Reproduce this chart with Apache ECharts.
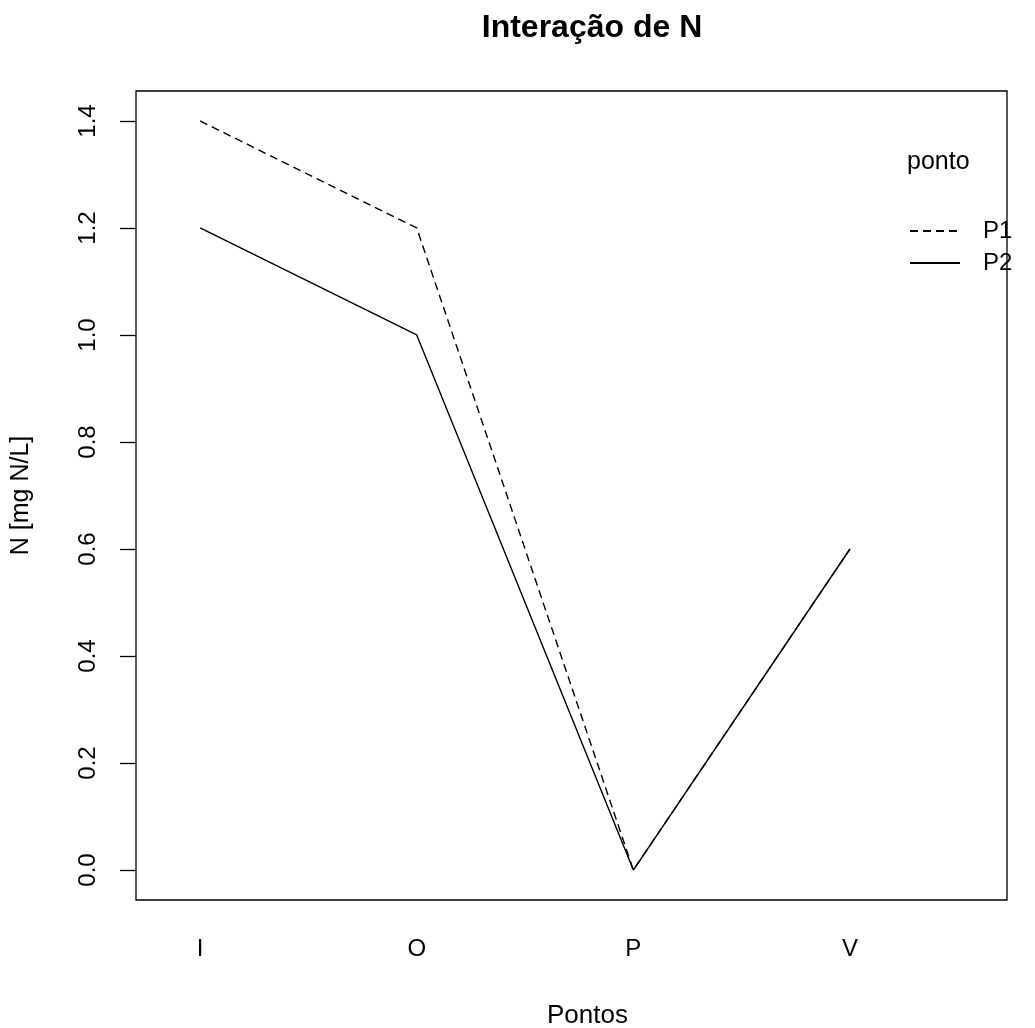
<!DOCTYPE html>
<html>
<head>
<meta charset="utf-8">
<script src="https://cdn.jsdelivr.net/npm/echarts@6/dist/echarts.min.js"></script>
<style>html,body{margin:0;padding:0;background:#fff;}#main{width:1035px;height:1028px;}</style>
</head>
<body>
<div id="main"></div>
<script>
var categories = ['I', 'O', 'P', 'V'];
var seriesNames = ['P1', 'P2'];
var p1Values = [1.4, 1.2, 0.0, 0.6];
var p2Values = [1.2, 1.0, 0.0, 0.6];
var yTicks = [0.0, 0.2, 0.4, 0.6, 0.8, 1.0, 1.2, 1.4];

var FONT = '"Liberation Sans", Arial, sans-serif';
function toPoints(vals) { return vals.map(function (v, i) { return [i, v]; }); }

var chart = echarts.init(document.getElementById('main'));
chart.setOption({
  backgroundColor: '#fff',
  animation: false,
  title: [
    { text: 'Interação de N', left: 587, textAlign: 'center', top: 7,
      textStyle: { fontFamily: FONT, fontSize: 32, fontWeight: 'bold', color: '#000' } },
    { text: 'ponto', left: 902, top: 145,
      textStyle: { fontFamily: FONT, fontSize: 25, fontWeight: 'normal', color: '#000' } }
  ],
  legend: {
    orient: 'vertical', left: 909, top: 219, padding: 0, itemWidth: 50, itemHeight: 14, itemGap: 8,
    itemStyle: { opacity: 0, color: 'transparent', borderWidth: 0 },
    textStyle: { fontFamily: FONT, fontSize: 24, color: '#000', padding: [4, 0, 0, 18] },
    data: seriesNames
  },
  grid: { left: 136, top: 91, right: 28, bottom: 128, outerBoundsMode: 'none', containLabel: false,
    show: true, borderColor: '#000', borderWidth: 1.3, backgroundColor: 'transparent' },
  xAxis: {
    type: 'value', min: -0.296, max: 3.725,
    name: 'Pontos', nameLocation: 'middle', nameGap: 103,
    nameTextStyle: { fontFamily: FONT, fontSize: 26, color: '#000', padding: [0, 0, 0, 32] },
    axisLine: { show: false, onZero: false }, axisTick: { show: false }, splitLine: { show: false },
    axisLabel: { customValues: [0, 1, 2, 3], formatter: function (v) { return categories[Math.round(v)]; },
      fontFamily: FONT, fontSize: 24, color: '#000', margin: 37 }
  },
  yAxis: {
    type: 'value', min: -0.056, max: 1.456,
    name: 'N [mg N/L]', nameLocation: 'middle', nameGap: 102, nameRotate: 90,
    nameTextStyle: { fontFamily: FONT, fontSize: 25, color: '#000' },
    axisLine: { show: false, onZero: false }, splitLine: { show: false },
    axisTick: { show: true, customValues: yTicks, length: 16, lineStyle: { color: '#000', width: 1.3 } },
    axisLabel: { customValues: yTicks, rotate: 90, formatter: function (v) { return v.toFixed(1); },
      fontFamily: FONT, fontSize: 24, color: '#000', margin: 36, align: 'center', verticalAlign: 'bottom' }
  },
  series: [
    { name: seriesNames[0], type: 'line', data: toPoints(p1Values), showSymbol: false, symbol: 'none',
      lineStyle: { color: '#000', width: 1.4, type: [8, 5] }, itemStyle: { color: '#000' } },
    { name: seriesNames[1], type: 'line', data: toPoints(p2Values), showSymbol: false, symbol: 'none',
      lineStyle: { color: '#000', width: 1.4, type: 'solid' }, itemStyle: { color: '#000' } }
  ]
});
</script>
</body>
</html>
